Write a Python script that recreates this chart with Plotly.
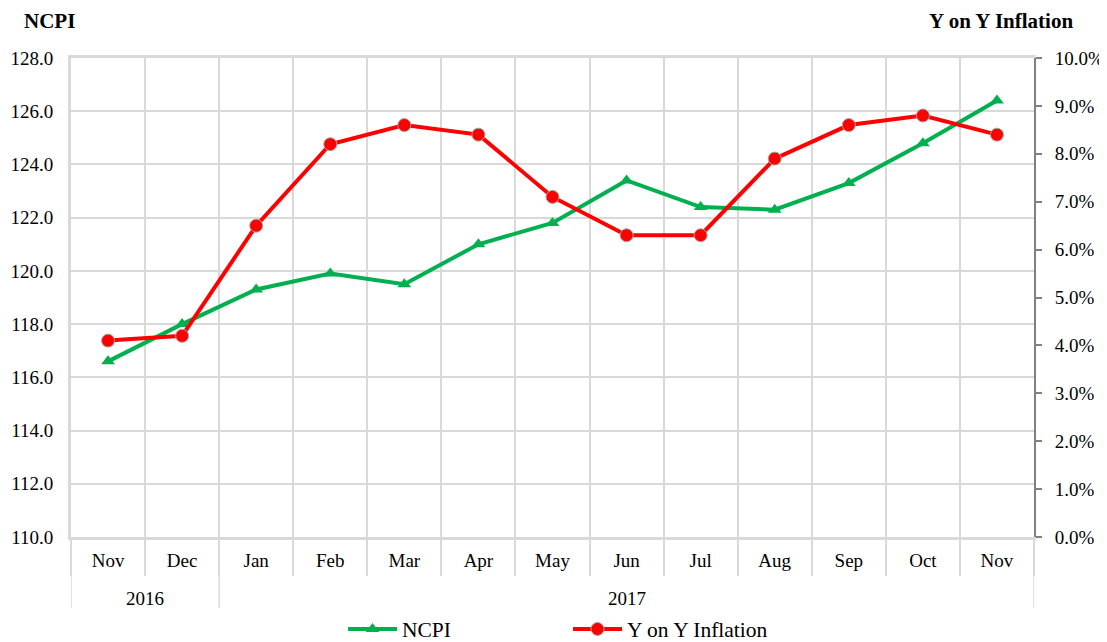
import plotly.graph_objects as go

months = ["Nov", "Dec", "Jan", "Feb", "Mar", "Apr", "May", "Jun", "Jul", "Aug", "Sep", "Oct", "Nov"]
years = ["2016", "2016", "2017", "2017", "2017", "2017", "2017", "2017", "2017", "2017", "2017", "2017", "2017"]
ncpi = [116.6, 118.0, 119.3, 119.9, 119.5, 121.0, 121.8, 123.4, 122.4, 122.3, 123.3, 124.8, 126.4]
inflation = [4.1, 4.2, 6.5, 8.2, 8.6, 8.4, 7.1, 6.3, 6.3, 7.9, 8.6, 8.8, 8.4]

# page body has an 8px margin: the figure starts at (8, 8) in the window
OFF = 8
WIN_W, WIN_H = 1107, 642
W, H = WIN_W - OFF, WIN_H - OFF
# plot area in window pixels
PL, PR, PT, PB = 71, 1034, 58, 537
ML, MT = PL - OFF, PT - OFF
MR, MB = W - (PR - OFF), H - (PB - OFF)
PW, PH = PR - PL, PB - PT
FONT = "Liberation Serif"
GRID = "#d9d9d9"

x = list(range(len(months)))

fig = go.Figure()
fig.add_trace(go.Scatter(
    x=x, y=ncpi, name="NCPI", mode="lines+markers",
    line=dict(color="#00b050", width=4),
    marker=dict(symbol="triangle-up", size=12, color="#00b050"),
))
fig.add_trace(go.Scatter(
    x=x, y=inflation, name="Y on Y Inflation", mode="lines+markers", yaxis="y2",
    line=dict(color="#ff0000", width=4),
    marker=dict(symbol="circle", size=13, color="#ff0000", line=dict(color="#a6a6a6", width=1)),
))

def py(v):
    return (PB - v) / PH

def pxf(v):
    return (v - PL) / PW

# year groups
groups = []
for i, yv in enumerate(years):
    if not groups or groups[-1][0] != yv:
        groups.append([yv, i, i])
    else:
        groups[-1][2] = i

shapes = []
annotations = []
bounds = sorted(set([g[1] - 0.5 for g in groups] + [groups[-1][2] + 0.5]))
for b in bounds:
    shapes.append(dict(type="line", xref="x", yref="paper", x0=b, x1=b,
                       y0=0, y1=py(608), line=dict(color=GRID, width=1.5), layer="below"))
for yv, s, e in groups:
    annotations.append(dict(xref="x", yref="paper", x=(s + e) / 2, y=py(598),
                            text=yv, showarrow=False, yanchor="middle",
                            font=dict(family=FONT, size=19, color="black")))

annotations.append(dict(xref="paper", yref="paper", x=pxf(22), y=py(21),
                        xanchor="left", yanchor="middle", text="<b>NCPI</b>", showarrow=False,
                        font=dict(family=FONT, size=21, color="black")))
annotations.append(dict(xref="paper", yref="paper", x=pxf(1075), y=py(21),
                        xanchor="right", yanchor="middle", text="<b>Y on Y Inflation</b>", showarrow=False,
                        font=dict(family=FONT, size=21, color="black")))

fig.update_layout(
    width=W, height=H,
    margin=dict(l=ML, r=MR, t=MT, b=MB, pad=0, autoexpand=False),
    paper_bgcolor="white", plot_bgcolor="white",
    font=dict(family=FONT, size=19, color="black"),
    showlegend=True,
    legend=dict(orientation="h", xref="container", yref="container", x=(343 - OFF) / W, xanchor="left",
                y=1 - (629 - OFF) / H, yanchor="middle",
                font=dict(family=FONT, size=21.5, color="black"), entrywidth=161, itemwidth=49,
                bgcolor="rgba(0,0,0,0)"),
    xaxis=dict(
        range=[-0.5, len(months) - 0.5], tickmode="array", tickvals=x, ticktext=months,
        showgrid=False, zeroline=False, ticks="", ticklabelstandoff=4,
        showline=True, linecolor=GRID, linewidth=3, mirror=True,
        minor=dict(tickmode="linear", tick0=-0.5, dtick=1, showgrid=True, gridcolor=GRID, gridwidth=1.5,
                   ticks="outside", ticklen=36, tickcolor=GRID, tickwidth=1.5),
        tickfont=dict(family=FONT, size=19, color="black"),
    ),
    yaxis=dict(
        range=[110, 128], dtick=2, tickformat=".1f", showgrid=True, gridcolor=GRID, gridwidth=1.5,
        zeroline=False, showline=True, linecolor=GRID, linewidth=3, ticks="", ticklabelstandoff=11,
        tickfont=dict(family=FONT, size=19, color="black"),
    ),
    yaxis2=dict(
        range=[0, 10], dtick=1, tickformat=".1f", ticksuffix="%", overlaying="y", side="right",
        showgrid=False, zeroline=False, showline=True, linecolor="#808080", linewidth=2,
        ticks="outside", ticklen=6, tickcolor="#808080", tickwidth=2, ticklabelstandoff=9,
        tickfont=dict(family=FONT, size=19, color="black"),
    ),
    shapes=shapes,
    annotations=annotations,
)

fig.write_html("out.html")
